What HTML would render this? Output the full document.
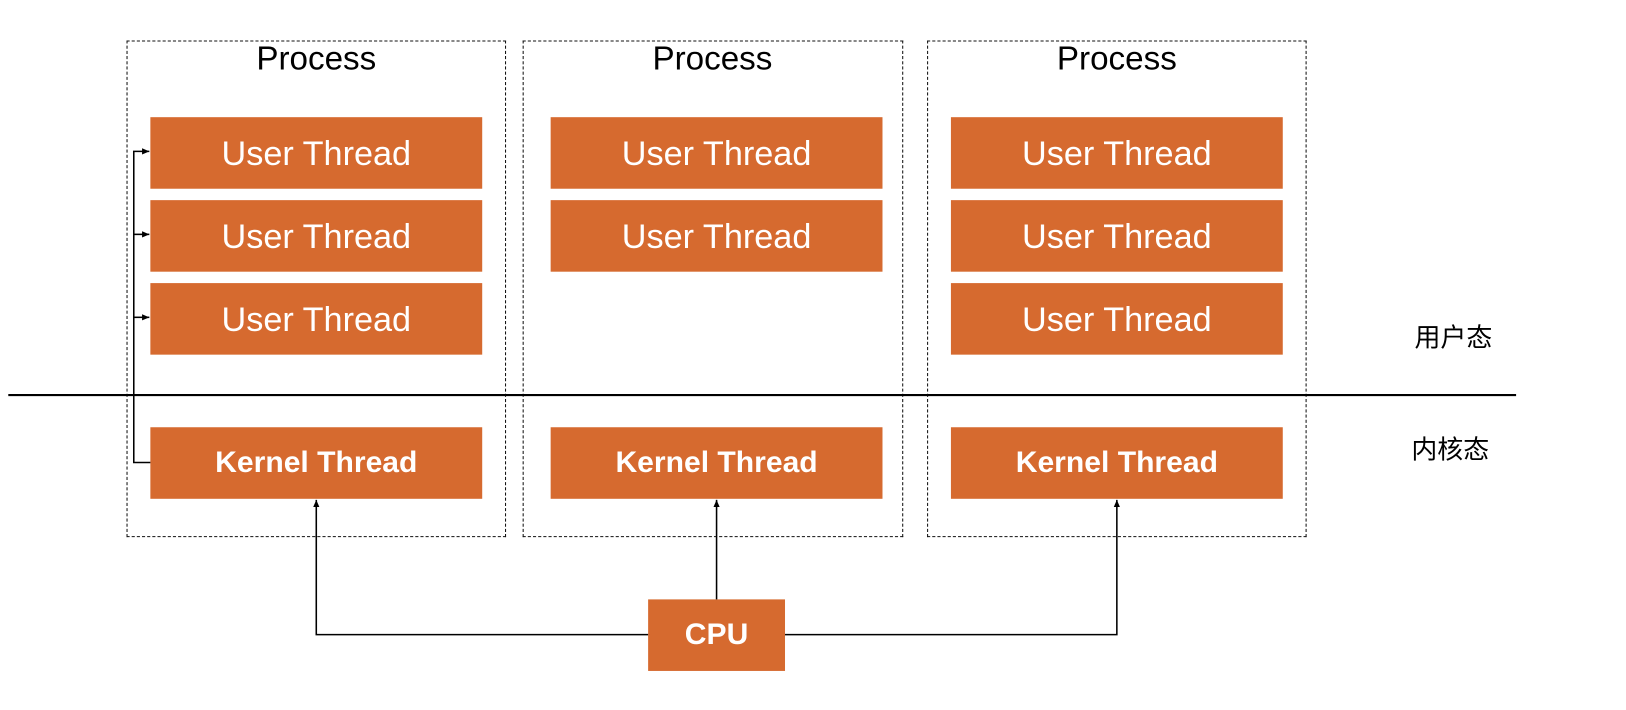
<!DOCTYPE html>
<html><head><meta charset="utf-8"><style>
body{margin:0;width:1626px;height:710px;background:#fff;position:relative;overflow:hidden;font-family:"Liberation Sans","Noto Sans CJK SC",sans-serif}
#w{position:absolute;left:0;top:0;width:1570px;height:685px;transform:scale(1.037);transform-origin:0 0}
.p{position:absolute;border:1.5px dashed #111;box-sizing:border-box}
.pt{position:absolute;font-size:32px;color:#000;text-align:center;width:366px}
.b{position:absolute;background:#d66a2f;color:#fff;font-size:33px;display:flex;align-items:center;justify-content:center;width:320px;height:69px}
.k{font-weight:bold;font-size:29px}
.l{position:absolute;font-size:25px;color:#000}
</style></head><body><div id="w">
<div class="p" style="left:122px;top:39px;width:366px;height:479px"></div>
<div class="p" style="left:504px;top:39px;width:367px;height:479px"></div>
<div class="p" style="left:894px;top:39px;width:366px;height:479px"></div>
<div class="pt" style="left:122px;top:38px">Process</div>
<div class="pt" style="left:504px;top:38px">Process</div>
<div class="pt" style="left:894px;top:38px">Process</div>
<div class="b" style="left:145px;top:113px">User Thread</div>
<div class="b" style="left:145px;top:193px">User Thread</div>
<div class="b" style="left:145px;top:273px">User Thread</div>
<div class="b k" style="left:145px;top:412px">Kernel Thread</div>
<div class="b" style="left:531px;top:113px">User Thread</div>
<div class="b" style="left:531px;top:193px">User Thread</div>
<div class="b k" style="left:531px;top:412px">Kernel Thread</div>
<div class="b" style="left:917px;top:113px">User Thread</div>
<div class="b" style="left:917px;top:193px">User Thread</div>
<div class="b" style="left:917px;top:273px">User Thread</div>
<div class="b k" style="left:917px;top:412px">Kernel Thread</div>
<div class="b k" style="left:625px;top:578px;width:132px;height:69px">CPU</div>
<div class="l" style="left:1364px;top:306px">用户态</div>
<div class="l" style="left:1361px;top:414px">内核态</div>
<svg width="1570" height="685" style="position:absolute;left:0;top:0">
<defs><marker id="a" markerWidth="8" markerHeight="8" refX="7" refY="4" orient="auto" markerUnits="userSpaceOnUse"><path d="M0,1 L7,4 L0,7z" fill="#000"/></marker></defs>
<line x1="8" y1="381" x2="1462" y2="381" stroke="#000" stroke-width="2"/>
<g stroke="#000" stroke-width="1.5" fill="none">
<polyline points="145,446 129,446 129,146 144,146" marker-end="url(#a)"/>
<line x1="129" y1="226" x2="144" y2="226" marker-end="url(#a)"/>
<line x1="129" y1="306" x2="144" y2="306" marker-end="url(#a)"/>
<polyline points="625,612 305,612 305,482" marker-end="url(#a)"/>
<line x1="691" y1="578" x2="691" y2="482" marker-end="url(#a)"/>
<polyline points="757,612 1077,612 1077,482" marker-end="url(#a)"/>
</g>
</svg>
</div></body></html>
